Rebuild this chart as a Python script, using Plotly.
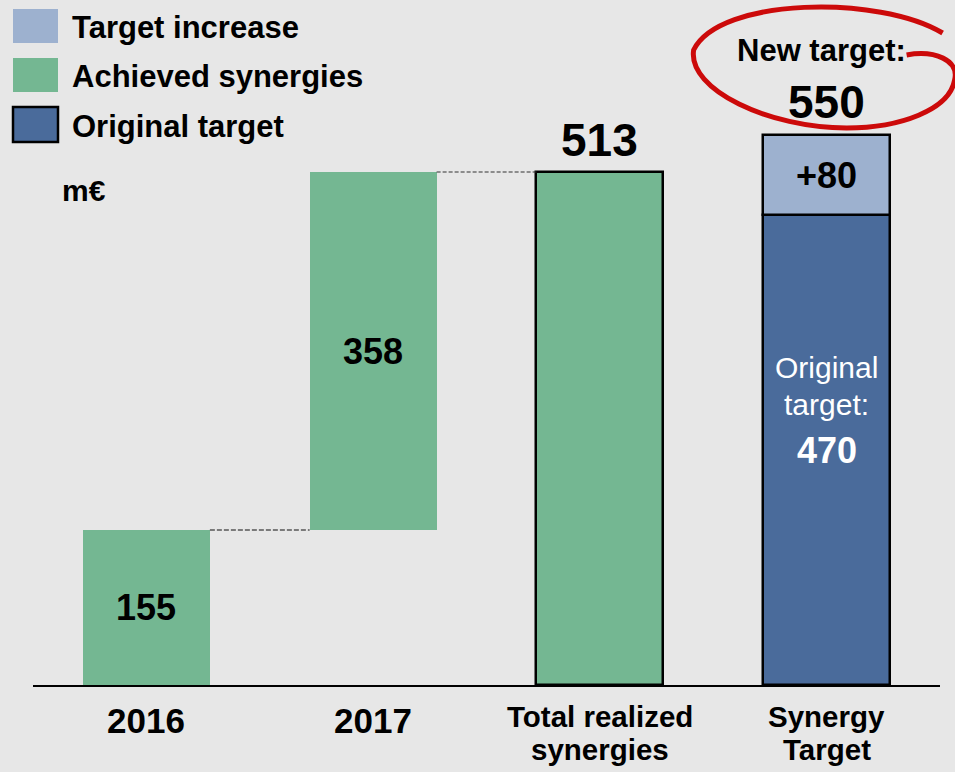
import plotly.graph_objects as go

# ---------------- data ----------------
categories = ["2016", "2017", "Total realized<br>synergies", "Synergy<br>Target"]
achieved_values = [155, 358, 513]
achieved_bases = [0, 155, 0]
achieved_labels = ["155", "358", "513"]
original_target = 470
target_increase = 80
new_target = original_target + target_increase
legend_labels = ["Target increase", "Achieved synergies", "Original target"]
unit_label = "m€"

# ---------------- styling ----------------
W, H = 955, 772
ML, MR, MT, MB = 33, 15, 0, 87
PW = W - ML - MR
PH = H - MT - MB
BAR_W = 0.56
BG = "#e7e7e7"
GREEN = "#74b792"
DARK_BLUE = "#4a6b9b"
LIGHT_BLUE = "#9db1cf"
RED = "#cc0a0a"
FONT = "Liberation Sans, Arial, sans-serif"


def px_x(px):
    return (px - ML) / PW


def px_y(py):
    return (MT + PH - py) / PH


def cat_px(i):
    # pixel centre of category i (range -0.5..n-0.5)
    return ML + (i + 0.5) * PW / len(categories)


def val_py(v):
    return MT + PH - v * PH / PH


fig = go.Figure()

n_ach = len(achieved_values)
fig.add_bar(
    x=categories[:n_ach], y=achieved_values, base=achieved_bases, width=BAR_W,
    marker=dict(color=GREEN,
                line=dict(color="black", width=[0] * (n_ach - 1) + [2.5])),
    showlegend=False, hoverinfo="skip",
)
fig.add_bar(
    x=[categories[3]], y=[original_target], base=[0], width=BAR_W,
    marker=dict(color=DARK_BLUE, line=dict(color="black", width=2.5)),
    showlegend=False, hoverinfo="skip",
)
fig.add_bar(
    x=[categories[3]], y=[target_increase], base=[original_target], width=BAR_W,
    marker=dict(color=LIGHT_BLUE, line=dict(color="black", width=2.5)),
    showlegend=False, hoverinfo="skip",
)

shapes = []
# connectors
shapes.append(dict(type="line", xref="x", yref="y",
                   x0=0 + BAR_W / 2, x1=1 - BAR_W / 2,
                   y0=achieved_bases[1], y1=achieved_bases[1],
                   line=dict(color="#7a7a7a", width=2, dash="5px,2px")))
shapes.append(dict(type="line", xref="x", yref="y",
                   x0=1 + BAR_W / 2, x1=2 - BAR_W / 2,
                   y0=achieved_values[2], y1=achieved_values[2],
                   line=dict(color="#333333", width=1.2, dash="4px,2px")))

annotations = []


def ann(text, x, y, size, color="black", bold=True, xref="x", yref="y",
        xanchor="center", yanchor="middle", yshift=0, xshift=0):
    annotations.append(dict(
        text=text, x=x, y=y, xref=xref, yref=yref, showarrow=False,
        xanchor=xanchor, yanchor=yanchor, yshift=yshift, xshift=xshift,
        font=dict(family=FONT, size=size, color=color,
                  weight=700 if bold else 400)))


# value labels (x given as category index)
ann(achieved_labels[0], 0, achieved_bases[0] + achieved_values[0] / 2, 36)
ann(achieved_labels[1], 1, achieved_bases[1] + achieved_values[1] / 2, 36)
ann(achieved_labels[2], 2, achieved_values[2], 46, yshift=32)
ann("+" + str(target_increase), 3, original_target + target_increase / 2, 36)
ann("Original", 3, original_target / 2, 30, color="white", bold=False, yshift=83)
ann("target:", 3, original_target / 2, 30, color="white", bold=False, yshift=46)
ann(str(original_target), 3, original_target / 2, 36, color="white")
ann("New target:", 3, new_target, 31, yshift=85, xshift=-5)
ann(str(new_target), 3, new_target, 46, yshift=33)

# category labels (below axis)
for i, c in enumerate(categories):
    lines = c.split("<br>")
    if len(lines) == 1:
        ann(lines[0], i, 0, 35, yshift=-35)
    else:
        ann(lines[0], i, 0, 29.5, yshift=-31)
        ann(lines[1], i, 0, 29.5, yshift=-64)

# legend
legend_colors = [LIGHT_BLUE, GREEN, DARK_BLUE]
legend_borders = [0, 0, 2.5]
legend_rows = [(9, 43), (58, 92), (107, 142)]
for lab, col, bw, (t, b) in zip(legend_labels, legend_colors, legend_borders, legend_rows):
    shapes.append(dict(type="rect", xref="paper", yref="paper",
                       x0=px_x(13), x1=px_x(58), y0=px_y(b), y1=px_y(t),
                       fillcolor=col, line=dict(color="black", width=bw)))
    ann(lab, px_x(70), px_y((t + b) / 2 + 1.5), 31, xref="paper", yref="paper",
        xanchor="left")

ann(unit_label, px_x(60), px_y(190), 30, xref="paper", yref="paper", xanchor="left")

# red hand-drawn ellipse around the new target, relative to the bar top
ax, ay = cat_px(3), val_py(new_target)
pts = [(116, -102),
       (53, -140), (-107, -138), (-133, -85),
       (-139, -45), (-57, -7), (20, -7),
       (73, -7), (123, -25), (128, -55),
       (133, -75), (108, -85), (80, -80)]


def P(p):
    return f"{px_x(ax + p[0]):.5f},{px_y(ay + p[1]):.5f}"


path = "M " + P(pts[0])
for k in range(1, len(pts), 3):
    path += " C " + P(pts[k]) + " " + P(pts[k + 1]) + " " + P(pts[k + 2])
shapes.append(dict(type="path", xref="paper", yref="paper", path=path,
                   line=dict(color=RED, width=5)))

fig.update_layout(
    width=W, height=H,
    margin=dict(l=ML, r=MR, t=MT, b=MB, pad=0),
    paper_bgcolor=BG, plot_bgcolor=BG,
    barmode="overlay", bargap=0,
    showlegend=False,
    xaxis=dict(type="category", categoryorder="array", categoryarray=categories,
               range=[-0.5, len(categories) - 0.5], showticklabels=False,
               showgrid=False, zeroline=False, showline=True,
               linecolor="black", linewidth=2, ticks=""),
    yaxis=dict(range=[0, PH], visible=False, showgrid=False, zeroline=False),
    shapes=shapes, annotations=annotations,
    font=dict(family=FONT),
)

fig.write_html(
    "out.html",
    config={"displayModeBar": False},
    post_script="document.body.style.margin='0';document.body.style.overflow='hidden';",
)
